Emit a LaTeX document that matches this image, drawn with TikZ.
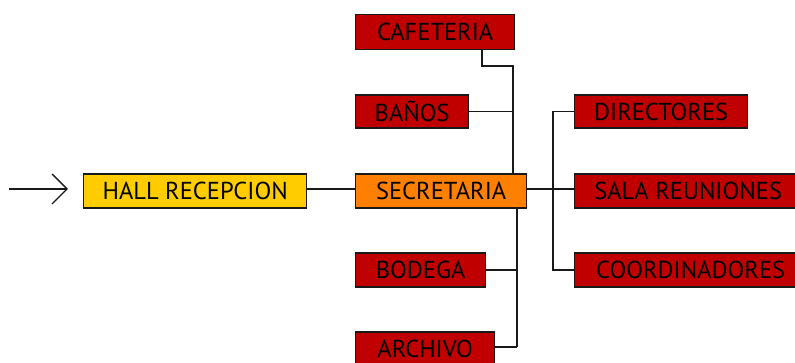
\documentclass[tikz,border=0pt]{standalone}
\usepackage{fontspec}
\setmainfont{PT Sans}
\usetikzlibrary{arrows.meta}
\definecolor{boxred}{HTML}{C00000}
\definecolor{boxyellow}{HTML}{FFCC00}
\definecolor{boxorange}{HTML}{FF8000}
\begin{document}
\begin{tikzpicture}[x=1pt,y=-1pt,
  room/.style={draw=black!90,line width=1.3pt,fill=boxred,inner sep=0pt,minimum height=34pt,
    font=\fontsize{24.5}{24.5}\selectfont,text=black,anchor=west,align=left,text depth=0pt},
  link/.style={draw=black!90,line width=1.3pt}]
\useasboundingbox (0,0) rectangle (795,363);
\begin{scope}
\clip (0,0) rectangle (795,363);
\node[room,fill=boxyellow,minimum width=223pt] (hall) at (83,191) {HALL RECEPCION};
\node[room,fill=boxorange,minimum width=171pt] (sec) at (355,191) {SECRETARIA};
\node[room,minimum width=159pt,minimum height=35pt] (caf) at (355,32) {CAFETERIA};
\node[room,minimum width=113pt,minimum height=33pt] (ban) at (355,111.5) {BAÑOS};
\node[room,minimum width=130pt] (bod) at (355,270) {BODEGA};
\node[room,minimum width=139pt] (arc) at (355,349) {ARCHIVO};
\node[room,minimum width=173pt,minimum height=33pt] (dir) at (574,111.5) {DIRECTORES};
\node[room,minimum width=227pt] (sala) at (574,191) {SALA REUNIONES};
\node[room,minimum width=232pt] (coo) at (574,270) {COORDINADORES};
\end{scope}
\coordinate (a0) at (9,189);
\coordinate (a1) at (68,189);
\draw[link,-{Straight Barb[length=15pt,width=30pt,line width=1.3pt]}] (a0) -- (a1);
\draw[link] (hall.east |- 0,189) -- (sec.west |- 0,189);
\coordinate (c1) at (482,66);
\coordinate (c2) at (513,66);
\draw[link] (caf.south -| c1) -- (c1) -- (c2) -- (c2 |- sec.north);
\draw[link] (ban.east) -- (ban.east -| c2);
\coordinate (b1) at (517,347);
\draw[link] (sec.south -| b1) -- (b1);
\draw[link] (bod.east) -- (bod.east -| b1);
\draw[link] (arc.east |- b1) -- (b1);
\coordinate (r1) at (553,111.5);
\coordinate (r2) at (553,270);
\draw[link] (sec.east |- 0,189) -- (sala.west |- 0,189);
\draw[link] (dir.west) -- (r1) -- (r2) -- (coo.west);
\end{tikzpicture}
\end{document}
